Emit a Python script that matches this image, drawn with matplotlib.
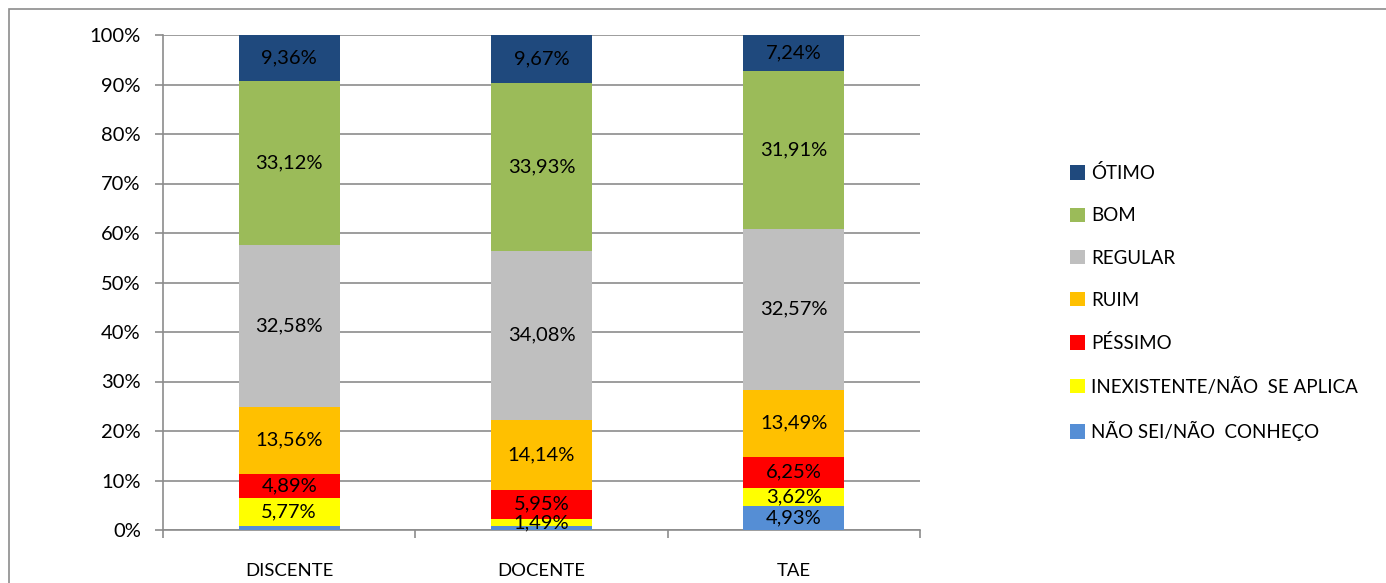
import matplotlib.pyplot as plt
from matplotlib.patches import Rectangle
import numpy as np

plt.rcParams['font.family'] = ['Lato', 'DejaVu Sans']

grupos = ["DISCENTE", "DOCENTE", "TAE"]
# de baixo para cima
categorias = ["NÃO SEI/NÃO  CONHEÇO", "INEXISTENTE/NÃO  SE APLICA", "PÉSSIMO",
              "RUIM", "REGULAR", "BOM", "ÓTIMO"]
nao_sei = [0.72, 0.74, 4.93]
inexistente = [5.77, 1.49, 3.62]
pessimo = [4.89, 5.95, 6.25]
ruim = [13.56, 14.14, 13.49]
regular = [32.58, 34.08, 32.57]
bom = [33.12, 33.93, 31.91]
otimo = [9.36, 9.67, 7.24]
cores = ["#558ED5", "#FFFF00", "#FF0000", "#FFC000", "#BFBFBF", "#9BBB59", "#1F497D"]

series = [nao_sei, inexistente, pessimo, ruim, regular, bom, otimo]

fig = plt.figure(figsize=(13.86, 5.83), dpi=100)
ax = fig.add_axes([163/1386, 1 - 530/583, (920 - 163)/1386, (530 - 35)/583])

# moldura do gráfico
fig.patches.append(Rectangle((9/1386, -0.1), 1.2, 1 - 9/583 + 0.1,
                             transform=fig.transFigure, fill=False,
                             edgecolor="#8c8c8c", linewidth=1.2))

x = np.arange(len(grupos))
base = np.zeros(len(grupos))
handles = []
for nome, vals, cor in zip(categorias, series, cores):
    vals = np.array(vals)
    b = ax.bar(x, vals, 0.4, bottom=base, color=cor, label=nome, zorder=3)
    handles.append(b)
    for xi, v, b0 in zip(x, vals, base):
        if v >= 1:
            ax.text(xi, b0 + v / 2, f"{v:.2f}%".replace(".", ","),
                    ha="center", va="center", fontsize=14.5, zorder=4)
    base += vals

ax.set_xlim(-0.5, 2.5)
ax.set_ylim(0, 100)
ax.set_yticks(np.arange(0, 101, 10))
ax.set_yticklabels([f"{v}%" for v in range(0, 101, 10)], fontsize=14.5)
ax.yaxis.grid(True, color="#8c8c8c", linewidth=1.2, zorder=0)
ax.set_xticks(x)
ax.set_xticklabels(grupos, fontsize=13.3)
ax.set_xticks([-0.5, 0.5, 1.5, 2.5], minor=True)
ax.tick_params(axis="x", which="major", length=0, pad=24)
ax.tick_params(axis="x", which="minor", length=6, color="#8c8c8c", width=1.2)
ax.tick_params(axis="y", length=6, color="#8c8c8c", width=1.2, pad=10)
for s in ["top", "right"]:
    ax.spines[s].set_visible(False)
for s in ["left", "bottom"]:
    ax.spines[s].set_color("#8c8c8c")
    ax.spines[s].set_linewidth(1.2)

fig.legend(handles[::-1], categorias[::-1], loc="upper left",
           bbox_to_anchor=(1053/1386, 1 - 147/583), frameon=False,
           fontsize=13.5, handlelength=0.8, handleheight=0.8,
           handletextpad=0.32, labelspacing=1.35)

fig.savefig("out.png", dpi=100)
